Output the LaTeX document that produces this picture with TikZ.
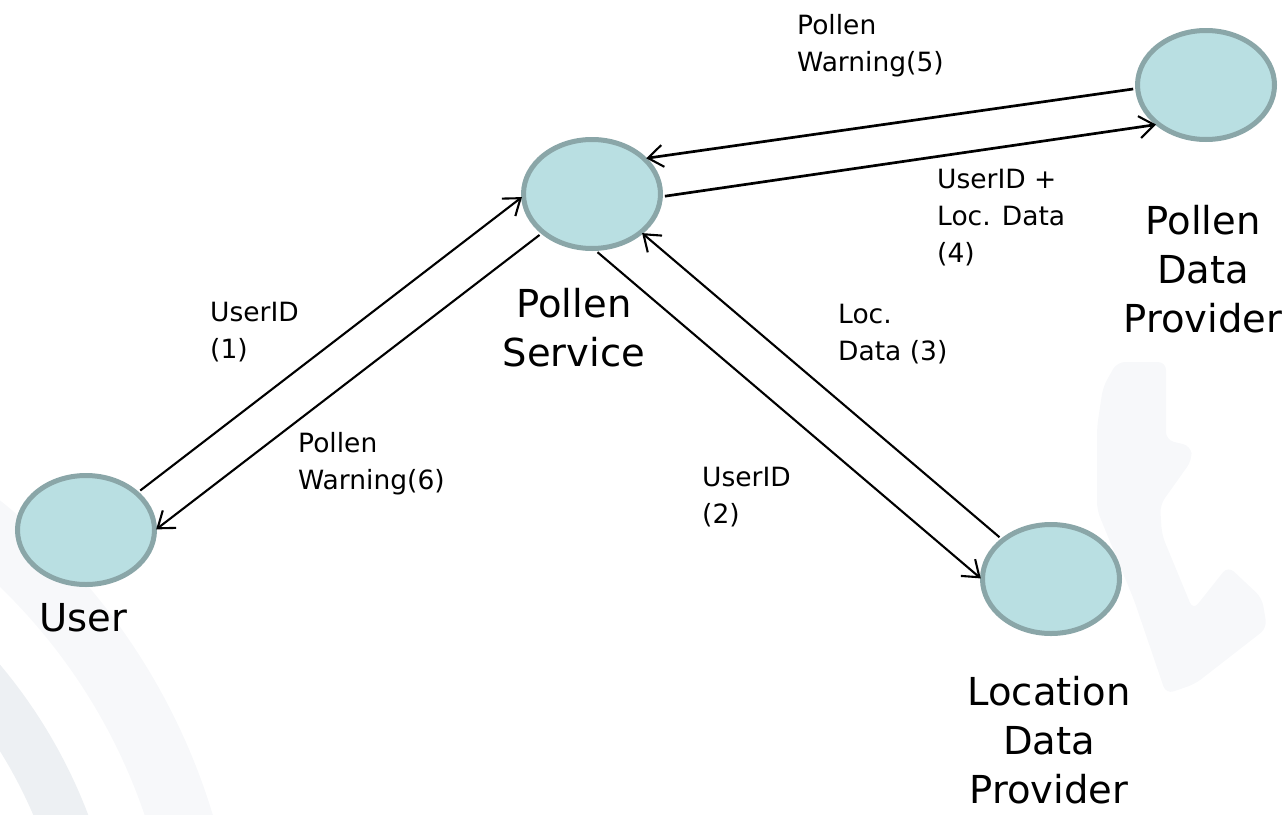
\documentclass[tikz,border=0pt]{standalone}
\usepackage{fontspec}
\setmainfont{DejaVu Sans}
\usetikzlibrary{shapes.geometric,arrows.meta}
\definecolor{nodefill}{HTML}{B9DFE2}
\definecolor{nodeline}{HTML}{8AA6A8}
\definecolor{wmA}{HTML}{F7F8FA}
\definecolor{wmB}{HTML}{EDF0F3}
\begin{document}
\begin{tikzpicture}[x=1pt,y=-1pt,
  actor/.style={ellipse, fill=nodefill, draw=nodeline, line width=5pt,
    minimum width=137pt, minimum height=109pt, inner sep=0pt},
  bigl/.style={inner sep=0pt, anchor=north, align=center, font=\fontsize{38.5}{49}\selectfont},
  smalll/.style={inner sep=0pt, anchor=north west, align=left, font=\fontsize{26.5}{37}\selectfont},
  msg/.style={draw=black, line width=2.1pt, shorten <=2pt, shorten >=-1pt,
    -{Straight Barb[length=15pt,width=22pt,line width=2.1pt]}},
  msgtop/.style={msg, line width=2.7pt}]
\useasboundingbox (0,0) rectangle (1287,814);
% faint watermark
\begin{scope}
  \clip (0,0) rectangle (1287,814);
  \fill[wmA, even odd rule] (-400,1000) circle (640pt) (-400,1000) circle (575pt);
  \fill[wmB, even odd rule] (-400,1000) circle (522pt) (-400,1000) circle (471pt);
  \fill[wmA, rounded corners=8pt] (1117,362) -- (1166,362) -- (1166,440) -- (1191,446)
    -- (1192,460) -- (1160,505) -- (1162,535) -- (1193,610) -- (1228,566) -- (1262,598)
    -- (1267,628) -- (1195,684) -- (1166,694) -- (1134,600) -- (1097,510) -- (1097,427)
    -- (1103,387) -- cycle;
\end{scope}
% actors
\node[actor] (user) at (86,530) {};
\node[actor] (svc) at (592,194) {};
\node[actor] (pdp) at (1206,85) {};
\node[actor] (ldp) at (1051,579) {};
% messages
\draw[msg] (user.36) -- (svc.183);
\draw[msg] (svc.218) -- (user.1);
\draw[msg] (svc.274) -- (ldp.179);
\draw[msg] (ldp.141) -- (svc.322);
\draw[msgtop] (svc.358) -- (pdp.218);
\draw[msgtop] (pdp.183) -- (svc.33);
% actor labels
\node[bigl] (svcl) at (574,288) {Pollen\\Service};
\node[bigl] (userl) at (83,603) {User};
\node[bigl] (pdpl) at (1203,205) {Pollen\\Data\\Provider};
\node[bigl] (ldpl) at (1049,676) {Location\\Data\\Provider};
% message labels
\node[smalll] (m1) at (210,302) {UserID\\(1)};
\node[smalll] (m6) at (298,432) {Pollen\\Warning(6)};
\node[smalll] (m2) at (702,467) {UserID\\(2)};
\node[smalll] (m3) at (838,304) {Loc.\\Data (3)};
\node[smalll] (m4) at (937,169) {UserID +\\Loc. Data\\(4)};
\node[smalll] (m5) at (797,14) {Pollen\\Warning(5)};
\end{tikzpicture}
\end{document}
